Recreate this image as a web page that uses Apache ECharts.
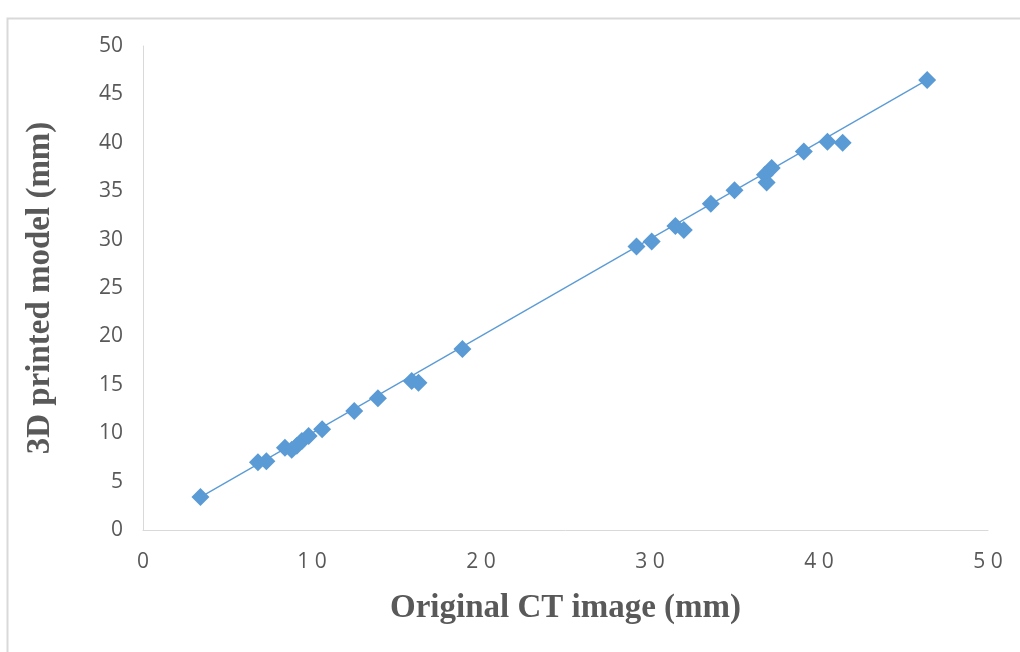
<!DOCTYPE html>
<html>
<head>
<meta charset="utf-8">
<script src="https://cdn.jsdelivr.net/npm/echarts@6/dist/echarts.min.js"></script>
<style>html,body{margin:0;padding:0;background:#fff}#c{width:1020px;height:652px}</style>
</head>
<body>
<div id="c"></div>
<script>
var ctX = [3.4, 6.8, 7.3, 8.4, 8.8, 9.1, 9.4, 9.8, 10.6, 12.5, 13.9, 15.9, 16.3, 18.9, 29.2, 30.1, 31.5, 32.0, 33.6, 35.0, 36.8, 36.9, 37.2, 39.1, 40.5, 41.4, 46.4];
var modelY = [3.4, 7.0, 7.1, 8.5, 8.3, 8.7, 9.2, 9.7, 10.4, 12.3, 13.6, 15.4, 15.2, 18.7, 29.3, 29.8, 31.4, 31.0, 33.7, 35.1, 36.7, 35.9, 37.4, 39.1, 40.1, 40.0, 46.5];
var trendX = [3.4, 46.4];
var trendY = [3.4, 46.5];

var points = ctX.map(function (x, i) { return [x, modelY[i]]; });
var trend = trendX.map(function (x, i) { return [x, trendY[i]]; });

var chart = echarts.init(document.getElementById('c'));
chart.setOption({
  animation: false,
  graphic: [{
    type: 'rect', left: 5, top: 16, shape: { width: 1100, height: 700 },
    style: { fill: 'none', stroke: '#d9d9d9', lineWidth: 2 }, silent: true, z: -1
  }],
  grid: { left: 143, right: 32, top: 46, bottom: 122 },
  xAxis: {
    type: 'value', min: 0, max: 50, interval: 10,
    name: 'Original CT image (mm)', nameLocation: 'middle', nameGap: 62,
    nameTextStyle: { fontFamily: 'Liberation Serif', fontWeight: 'bold', fontSize: 33, color: '#595959' },
    axisLine: { show: true, lineStyle: { color: '#d9d9d9', width: 1 } },
    axisTick: { show: false }, splitLine: { show: false },
    axisLabel: { margin: 22, fontSize: 21, color: '#595959', fontFamily: '"Liberation Sans Narrow", "Open Sans"',
      formatter: function (v) { return String(v).split('').join('\u2005'); } }
  },
  yAxis: {
    type: 'value', min: 0, max: 50, interval: 5,
    name: '3D printed model (mm)', nameLocation: 'middle', nameGap: 86,
    nameTextStyle: { fontFamily: 'Liberation Serif', fontWeight: 'bold', fontSize: 33, color: '#595959' },
    axisLine: { show: true, lineStyle: { color: '#d9d9d9', width: 1 } },
    axisTick: { show: false }, splitLine: { show: false },
    axisLabel: { margin: 20, fontSize: 21, color: '#595959', fontFamily: '"Liberation Sans Narrow", "Open Sans"' }
  },
  series: [{
    type: 'line', data: trend, showSymbol: false, symbol: 'none',
    lineStyle: { color: '#5B9BD5', width: 1.3 }, z: 1
  }, {
    type: 'scatter', data: points, symbol: 'diamond', symbolSize: 18,
    itemStyle: { color: '#5B9BD5', opacity: 1 }, z: 2
  }]
});
</script>
</body>
</html>
